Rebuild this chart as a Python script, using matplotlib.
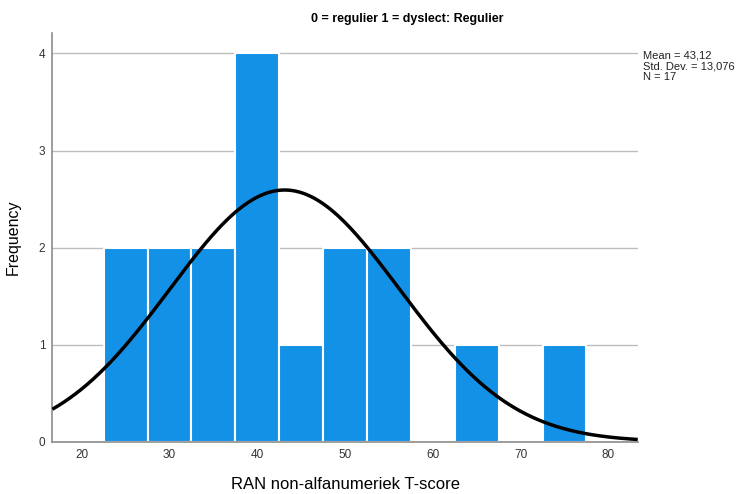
import numpy as np
import matplotlib.pyplot as plt

plt.rcParams['font.family'] = ['Liberation Sans', 'DejaVu Sans']

# histogram data (bin width 5)
bin_left = [22.5, 27.5, 32.5, 37.5, 42.5, 47.5, 52.5, 57.5, 62.5, 67.5, 72.5]
counts = [2, 2, 2, 4, 1, 2, 2, 0, 1, 0, 1]
bin_width = 5
mean, sd, n = 43.12, 13.076, 17

title = '0 = regulier 1 = dyslect: Regulier'
xlabel = 'RAN non-alfanumeriek T-score'
xticks = [20, 30, 40, 50, 60, 70, 80]
yticks = [0, 1, 2, 3, 4]

fig = plt.figure(figsize=(7.39, 4.94), dpi=100)
ax = fig.add_axes([0.0708, 0.1059, 0.7922, 0.8271])

ax.bar(bin_left, counts, width=bin_width, align='edge',
       color='#1391e6', edgecolor='white', linewidth=1.5, zorder=2)

# fitted normal curve
xs = np.linspace(16.65, 83.35, 300)
ys = n * bin_width / (sd * np.sqrt(2 * np.pi)) * np.exp(-0.5 * ((xs - mean) / sd) ** 2)
ax.plot(xs, ys, color='black', linewidth=2.5, zorder=3, solid_capstyle='butt')

ax.set_xlim(16.65, 83.35)
ax.set_ylim(0, 4.21)
ax.set_xticks(xticks)
ax.set_yticks(yticks)
ax.tick_params(length=0, labelsize=8.5, colors='#333333', pad=5)
ax.yaxis.grid(True, color='#bdbdbd', linewidth=1, zorder=0)
ax.set_axisbelow(True)
for s in ['top', 'right']:
    ax.spines[s].set_visible(False)
for s in ['left', 'bottom']:
    ax.spines[s].set_color('#8c8c8c')
    ax.spines[s].set_linewidth(1.2)

ax.set_xlabel(xlabel, fontsize=12, labelpad=12)
ax.set_ylabel('Frequency', fontsize=11.5, labelpad=13)

fig.text(0.551, 0.962, title, ha='center', va='center', fontsize=9, fontweight='bold',
         family=['Liberation Sans Narrow', 'Liberation Sans'])
fig.text(0.870, 0.897, 'Mean = 43,12\nStd. Dev. = 13,076\nN = 17', ha='left', va='top',
         fontsize=8, linespacing=1.1, color='#222222')

fig.savefig('out.png', dpi=100)
